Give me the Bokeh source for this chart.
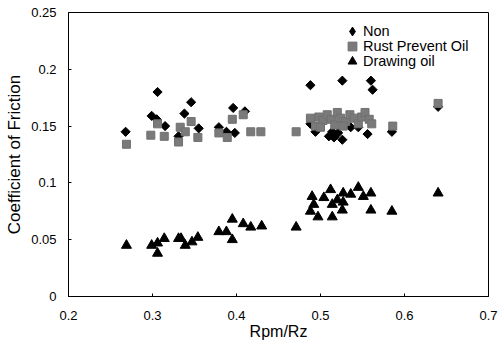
from bokeh.plotting import figure
from bokeh.models import Range1d, FixedTicker, Legend, LegendItem, ColumnDataSource
from bokeh.embed import file_html
from bokeh.resources import INLINE
import math

non_x = [0.268, 0.306, 0.299, 0.305, 0.315, 0.346, 0.338, 0.355, 0.331, 0.379, 0.388, 0.398, 0.396, 0.410,
         0.488, 0.526, 0.560, 0.562,
         0.488, 0.494, 0.510, 0.514, 0.516, 0.521, 0.526, 0.536, 0.545, 0.556, 0.585, 0.640]
non_y = [0.145, 0.180, 0.159, 0.156, 0.150, 0.171, 0.161, 0.148, 0.141, 0.149, 0.145, 0.144, 0.166, 0.163,
         0.186, 0.190, 0.190, 0.182,
         0.152, 0.145, 0.141, 0.145, 0.140, 0.144, 0.138, 0.149, 0.149, 0.143, 0.145, 0.167]

rpo_x = [0.269, 0.298, 0.306, 0.314, 0.331, 0.333, 0.339, 0.346, 0.354, 0.379, 0.389, 0.395, 0.408, 0.417, 0.429, 0.471,
         0.488, 0.494, 0.498, 0.503, 0.508, 0.513, 0.517, 0.520, 0.524, 0.530, 0.535, 0.540, 0.545, 0.549, 0.553, 0.558,
         0.561, 0.500, 0.527, 0.586, 0.640]
rpo_y = [0.134, 0.142, 0.152, 0.141, 0.136, 0.149, 0.145, 0.154, 0.140, 0.144, 0.140, 0.156, 0.160, 0.145, 0.145, 0.145,
         0.157, 0.150, 0.158, 0.155, 0.160, 0.156, 0.151, 0.162, 0.157, 0.154, 0.160, 0.157, 0.152, 0.158, 0.162, 0.156,
         0.152, 0.149, 0.150, 0.150, 0.170]

draw_x = [0.269, 0.299, 0.306, 0.306, 0.314, 0.331, 0.334, 0.339, 0.347, 0.354, 0.379, 0.388, 0.395, 0.395, 0.408,
          0.417, 0.430, 0.471,
          0.490, 0.488, 0.497, 0.492, 0.504, 0.512, 0.514, 0.514, 0.520, 0.526, 0.527, 0.527, 0.536, 0.545, 0.551,
          0.560, 0.560, 0.585, 0.640]
draw_y = [0.045, 0.045, 0.047, 0.038, 0.051, 0.051, 0.051, 0.045, 0.048, 0.052, 0.057, 0.057, 0.050, 0.068, 0.064,
          0.061, 0.062, 0.061,
          0.088, 0.075, 0.070, 0.081, 0.087, 0.094, 0.081, 0.070, 0.085, 0.076, 0.091, 0.083, 0.090, 0.096, 0.088,
          0.091, 0.076, 0.075, 0.091]

x_ticks = [0.2, 0.3, 0.4, 0.5, 0.6, 0.7]
y_ticks = [0, 0.05, 0.1, 0.15, 0.2, 0.25]
series_labels = ["Non", "Rust Prevent Oil", "Drawing oil"]

FONT = "Liberation Sans"

p = figure(width=499, height=347, output_backend="svg", toolbar_location=None,
           x_range=Range1d(0.2, 0.7), y_range=Range1d(0, 0.25),
           min_border_left=68, min_border_right=11, min_border_top=12, min_border_bottom=51)
p.background_fill_color = "white"
p.border_fill_color = "white"
p.outline_line_color = "black"
p.outline_line_width = 1
p.xgrid.visible = False
p.ygrid.visible = False

r_non = p.scatter(non_x, non_y, marker="square", angle=math.pi / 4, size=6.5,
                  fill_color="black", line_color="black")
r_rpo = p.scatter(rpo_x, rpo_y, marker="square", size=8, fill_color="#7a7a7a",
                  line_color="#707070", hatch_pattern="checker", hatch_color="#cfcfcf",
                  hatch_scale=2, hatch_weight=1)
r_draw = p.scatter(draw_x, draw_y, marker="triangle", size=10, fill_color="black", line_color="black")

# legend-only key for the diamond symbol (legend glyphs ignore angle); it has no drawable point
key_src = ColumnDataSource(dict(x=[float("nan")], y=[float("nan")]))
r_non_key = p.scatter("x", "y", source=key_src, marker="diamond", fill_color="black", line_color="black")

for ax in (p.xaxis[0], p.yaxis[0]):
    ax.axis_line_color = "black"
    ax.major_tick_in = 3
    ax.major_tick_out = 0
    ax.minor_tick_in = 0
    ax.minor_tick_out = 0
    ax.major_label_text_font = FONT
    ax.major_label_text_font_size = "13px"
    ax.major_label_text_color = "black"
    ax.axis_label_text_font = FONT
    ax.axis_label_text_font_style = "normal"
    ax.axis_label_text_color = "black"
p.xaxis.axis_label_text_font_size = "16px"
p.yaxis.axis_label_text_font_size = "17px"

p.xaxis.ticker = FixedTicker(ticks=x_ticks)
p.yaxis.ticker = FixedTicker(ticks=y_ticks)
p.xaxis.major_label_overrides = {0.2: "0.2", 0.3: "0.3", 0.4: "0.4", 0.5: "0.5", 0.6: "0.6", 0.7: "0.7"}
p.yaxis.major_label_overrides = {0: "0", 0.05: "0.05", 0.1: "0.1", 0.15: "0.15", 0.2: "0.2", 0.25: "0.25"}
p.xaxis.axis_label = "Rpm/Rz"
p.yaxis.axis_label = "Coefficient of Friction"
p.xaxis.major_label_standoff = 14
p.xaxis.axis_label_standoff = 0
p.yaxis.major_label_standoff = 12
p.yaxis.axis_label_standoff = 4

# one single-row legend per series so the rows can sit closer than the glyph box
key_renderers = [r_non_key, r_rpo, r_draw]
key_bottoms = [254, 239, 224]
for lab, rend, vy in zip(series_labels, key_renderers, key_bottoms):
    lg = Legend(items=[LegendItem(label=lab, renderers=[rend])], location=(273, vy))
    lg.label_text_font = FONT
    lg.label_text_font_size = "14.5px"
    lg.label_text_color = "black"
    lg.label_height = 22
    lg.glyph_height = 22
    lg.glyph_width = 22
    lg.label_standoff = 0
    lg.padding = 0
    lg.margin = 0
    lg.border_line_color = None
    lg.background_fill_alpha = 0
    p.add_layout(lg)

open("out.html", "w").write(file_html(p, INLINE))
